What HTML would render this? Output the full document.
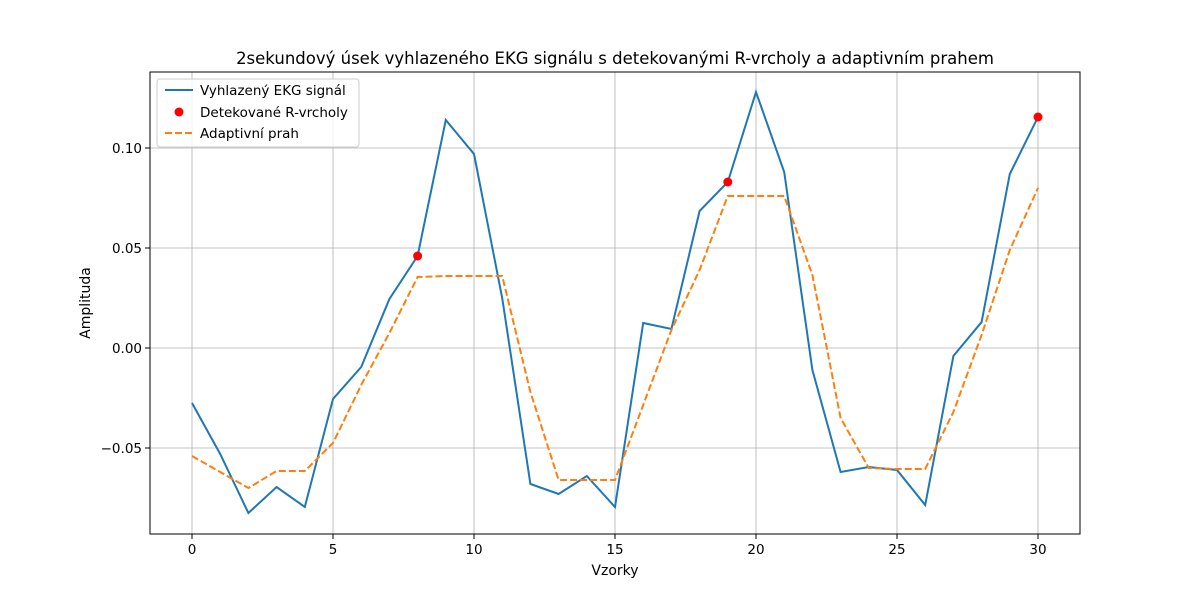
<!DOCTYPE html>
<html><head><meta charset="utf-8"><style>
body{margin:0;background:#fff;}
svg text{font-family:"DejaVu Sans","Liberation Sans",sans-serif;fill:#000;}
</style></head><body>
<svg id="c" width="1200" height="600"></svg>
<script>
const xs=[...Array(31).keys()];
const signal=[-0.0275,-0.053,-0.0825,-0.0695,-0.0795,-0.0255,-0.0095,0.0245,0.046,0.114,0.097,0.025,-0.068,-0.073,-0.064,-0.0795,0.0125,0.0095,0.0685,0.083,0.128,0.088,-0.011,-0.062,-0.0595,-0.061,-0.0785,-0.004,0.013,0.087,0.1155];
const threshold=[-0.054,-0.062,-0.070,-0.0615,-0.0615,-0.0475,-0.0185,0.0075,0.0355,0.036,0.036,0.036,-0.022,-0.066,-0.066,-0.066,-0.0285,0.009,0.039,0.076,0.076,0.076,0.0365,-0.035,-0.06,-0.0605,-0.0605,-0.032,0.0065,0.049,0.080];
const peaks=[8,19,30];
const xTicks=[0,5,10,15,20,25,30];
const yTicks=[-0.05,0,0.05,0.10];
const yTickLabels=["\u22120.05","0.00","0.05","0.10"];
const L=150,R=1080,T=72,B=534;
const X=v=>192+v*(1038-192)/30;
const Y=v=>348-v*2000;
const svg=document.getElementById('c');const NS='http://www.w3.org/2000/svg';
function add(tag,attrs,txt){const e=document.createElementNS(NS,tag);for(const k in attrs)e.setAttribute(k,attrs[k]);if(txt!=null)e.textContent=txt;svg.appendChild(e);return e;}
xTicks.forEach(t=>{
 let g=add('line',{x1:X(t),x2:X(t),y1:T,y2:B,stroke:'#b0b0b0','stroke-width':0.8});
 
 
 add('line',{x1:X(t),x2:X(t),y1:B,y2:B+5,stroke:'#000'});
 let l=add('text',{x:X(t),y:B+20,'text-anchor':'middle','font-size':13.5},String(t));
 
 
});
yTicks.forEach((t,i)=>{
 let g=add('line',{x1:L,x2:R,y1:Y(t),y2:Y(t),stroke:'#b0b0b0','stroke-width':0.8});
 
 
 add('line',{x1:L-5,x2:L,y1:Y(t),y2:Y(t),stroke:'#000'});
 let l=add('text',{x:L-8,y:Y(t)+5,'text-anchor':'end','font-size':13.5},yTickLabels[i]);
 
 
});
let p1=add('polyline',{points:xs.map(i=>X(i)+','+Y(signal[i])).join(' '),fill:'none',stroke:'#1f77b4','stroke-width':2});


let p2=add('polyline',{points:xs.map(i=>X(i)+','+Y(threshold[i])).join(' '),fill:'none',stroke:'#ff7f0e','stroke-width':2,'stroke-dasharray':'7,3'});


peaks.forEach(i=>{
 let c=add('circle',{cx:X(i),cy:Y(signal[i]),r:4.5,fill:'red'});
 
 
});
let fr=add('rect',{x:L,y:T,width:R-L,height:B-T,fill:'none',stroke:'#000','stroke-width':1});


let t=add('text',{x:615,y:64,'text-anchor':'middle','font-size':16.5},'2sekundový úsek vyhlazeného EKG signálu s detekovanými R-vrcholy a adaptivním prahem');


let xl=add('text',{x:615,y:575,'text-anchor':'middle','font-size':14},'Vzorky');


let yl=add('text',{x:90,y:303,'text-anchor':'middle','font-size':14,transform:'rotate(-90 90 303)'},'Amplituda');


let lg=add('rect',{x:157,y:79,width:202,height:68,fill:'#fff','fill-opacity':0.8,stroke:'#ccc',rx:3});


add('line',{x1:165,x2:193,y1:90,y2:90,stroke:'#1f77b4','stroke-width':2});
add('circle',{cx:179,cy:112,r:4.5,fill:'red'});
add('line',{x1:165,x2:193,y1:133,y2:133,stroke:'#ff7f0e','stroke-width':2,'stroke-dasharray':'7,3'});
[['Vyhlazený EKG signál',95],['Detekované R-vrcholy',117],['Adaptivní prah',138]].forEach(([s,y])=>{
 let e=add('text',{x:200,y:y,'font-size':13.5},s);
 
 
});
</script>
</body></html>
